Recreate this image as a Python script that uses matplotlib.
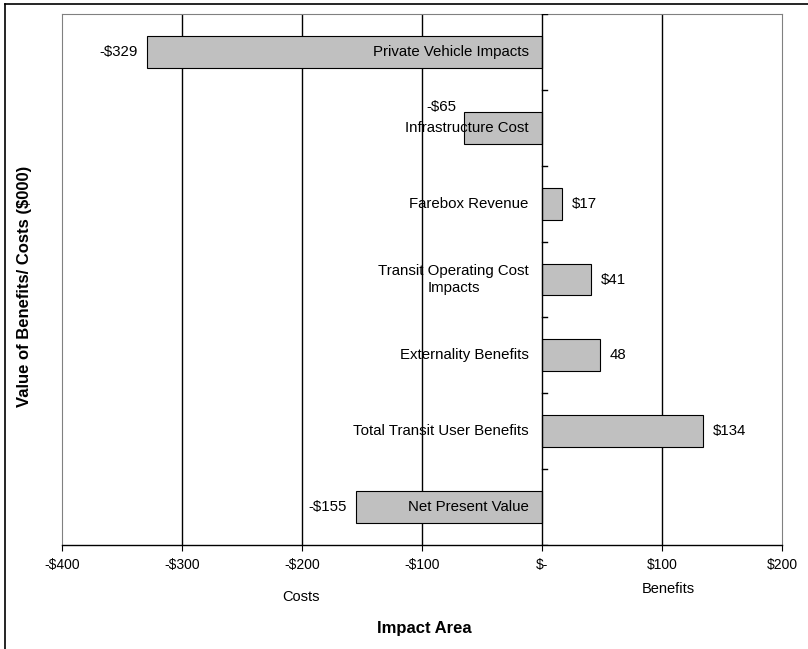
import matplotlib.pyplot as plt
from matplotlib.lines import Line2D

plt.rcParams['font.family'] = ['Liberation Sans', 'DejaVu Sans']

categories = ['Private Vehicle Impacts', 'Infrastructure Cost', 'Farebox Revenue',
              'Transit Operating Cost\nImpacts', 'Externality Benefits',
              'Total Transit User Benefits', 'Net Present Value']
values = [-329, -65, 17, 41, 48, 134, -155]
value_labels = ['-$329', '-$65', '$17', '$41', '48', '$134', '-$155']
xticks = [-400, -300, -200, -100, 0, 100, 200]
xtick_labels = ['-$400', '-$300', '-$200', '-$100', '$-', '$100', '$200']

fig = plt.figure(figsize=(8.08, 6.49), dpi=100)
ax = fig.add_axes([62 / 808, 1 - 545 / 649, 720 / 808, 531 / 649])

n = len(categories)
ypos = [n - 1 - i + 0.5 for i in range(n)]
lab_fs = 10.8

# vertical gridlines
for g in [-300, -200, -100, 100]:
    ax.axvline(g, color='black', lw=1, zorder=1)

ax.barh(ypos, values, height=0.42, color='#c0c0c0', edgecolor='black', lw=0.8, zorder=2)

# zero axis with slot ticks
ax.axvline(0, color='black', lw=1, zorder=3)
for k in range(n + 1):
    ax.plot([0, 4], [k, k], color='black', lw=1, zorder=3)

for y, v, cat, lab in zip(ypos, values, categories, value_labels):
    ax.text(-11, y, cat, ha='right', va='center', fontsize=lab_fs, zorder=4,
            multialignment='center')
    if cat == 'Infrastructure Cost':
        ax.text(v - 6, y + 0.27, lab, ha='right', va='center', fontsize=lab_fs, zorder=4)
    elif v < 0:
        ax.text(v - 8, y, lab, ha='right', va='center', fontsize=lab_fs, zorder=4)
    else:
        ax.text(v + 8, y, lab, ha='left', va='center', fontsize=lab_fs, zorder=4)

ax.set_xlim(-400, 200)
ax.set_ylim(0, n)
ax.set_xticks(xticks)
ax.set_xticklabels(xtick_labels, fontsize=10)
ax.set_yticks([])
ax.tick_params(axis='x', direction='out', length=4, pad=5)
for side in ['left', 'right', 'top']:
    ax.spines[side].set_color('#808080')
    ax.spines[side].set_linewidth(0.8)
ax.spines['bottom'].set_color('black')
ax.spines['bottom'].set_linewidth(1)

fig.text(301 / 808, 1 - 597 / 649, 'Costs', ha='center', va='center', fontsize=10.5)
fig.text(668 / 808, 1 - 589 / 649, 'Benefits', ha='center', va='center', fontsize=10.5)
fig.text(424 / 808, 1 - 629 / 649, 'Impact Area', ha='center', va='center',
         fontsize=12, fontweight='bold')
fig.text(25 / 808, 1 - 286 / 649, 'Value of Benefits/ Costs ($000)', ha='center',
         va='center', rotation=90, fontsize=12, fontweight='bold')

# frame edges along the left and top
fig.add_artist(Line2D([5 / 808, 5 / 808], [0, 1 - 4 / 649], transform=fig.transFigure,
                      color='black', lw=1.2))
fig.add_artist(Line2D([5 / 808, 1], [1 - 4 / 649, 1 - 4 / 649], transform=fig.transFigure,
                      color='black', lw=1.2))

fig.savefig('out.png', dpi=100)
